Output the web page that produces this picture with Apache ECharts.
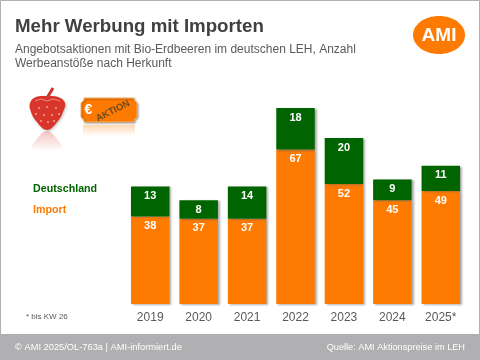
<!DOCTYPE html>
<html>
<head>
<meta charset="utf-8">
<style>
  html, body { margin: 0; padding: 0; background: #fff; }
  #chart { width: 480px; height: 360px; }
</style>
<script src="https://cdn.jsdelivr.net/npm/echarts@6/dist/echarts.min.js"></script>
</head>
<body>
<div id="chart"></div>
<script>
const years = ['2019', '2020', '2021', '2022', '2023', '2024', '2025*'];
const importValues = [38, 37, 37, 67, 52, 45, 49];
const germanValues = [13, 8, 14, 18, 20, 9, 11];

const FONT = '"Liberation Sans", Arial, sans-serif';
const ORANGE = '#ff7a00';
const GREEN = '#006400';
const GREY = '#5a5a5a';

const chart = echarts.init(document.getElementById('chart'), null, { renderer: 'canvas' });

function barSeries(name, data, color) {
  return {
    name, type: 'bar', stack: 'total', data,
    barWidth: 38.5,
    itemStyle: {
      color,
      shadowColor: 'rgba(90,90,90,.5)', shadowBlur: 2, shadowOffsetX: 2, shadowOffsetY: 1,
    },
    label: {
      show: true, position: 'insideTop', distance: 4,
      color: '#fff', fontFamily: FONT, fontSize: 11, fontWeight: 'bold',
    },
  };
}

// Erdbeere und Aktions-Etikett als Schmuck links oben
const berry = [[47, 96], [36, 97], [30, 103], [31, 112], [36, 121], [47, 130], [58, 121], [63, 112], [65, 103], [58, 97]];
const berryShine = berry.map(p => [p[0], 261 - p[1]]);
const seeds = [[39, 108], [47, 107], [56, 108], [36, 114], [44, 115], [52, 115], [59, 114], [41, 121], [48, 122], [54, 121]];
const tag = [[84, 98], [134, 98], [134, 100], [137, 103], [137, 117], [134, 120], [134, 122], [84, 122], [84, 120], [81, 117], [81, 103], [84, 100]];

chart.setOption({
  animation: false,
  backgroundColor: '#fff',
  grid: { left: 126, right: 15, top: 108, bottom: 56 },
  xAxis: {
    type: 'category', data: years,
    axisLine: { show: false }, axisTick: { show: false },
    axisLabel: { color: GREY, fontFamily: FONT, fontSize: 12, margin: 8 },
  },
  yAxis: { type: 'value', min: 0, max: 85, show: false },
  legend: {
    orient: 'vertical', left: 28, top: 179, itemGap: 10, itemWidth: 0, itemHeight: 0,
    selectedMode: false,
    data: [
      { name: 'Deutschland', icon: 'none', textStyle: { color: GREEN } },
      { name: 'Import', icon: 'none', textStyle: { color: ORANGE } },
    ],
    textStyle: { fontFamily: FONT, fontSize: 10.7, fontWeight: 'bold', padding: [0, 0, 0, -5] },
  },
  series: [
    barSeries('Import', importValues, ORANGE),
    barSeries('Deutschland', germanValues, GREEN),
  ],
  graphic: [
    { type: 'rect', z: -1, shape: { x: 0.5, y: 0.5, width: 479, height: 359 }, style: { fill: 'none', stroke: '#b0b0b0', lineWidth: 1 } },
    { type: 'rect', shape: { x: 0, y: 334, width: 480, height: 26 }, style: { fill: '#b0afb1' } },
    { type: 'text', x: 15, y: 334 + 13, style: { text: '© AMI 2025/OL-763a | AMI-informiert.de', fill: '#fff', font: '9.3px ' + FONT, textVerticalAlign: 'middle' } },
    { type: 'text', x: 465, y: 334 + 13, style: { text: 'Quelle: AMI Aktionspreise im LEH', fill: '#fff', font: '9.2px ' + FONT, textAlign: 'right', textVerticalAlign: 'middle' } },

    { type: 'text', x: 15, y: 27, style: { text: 'Mehr Werbung mit Importen', fill: '#404040', font: 'bold 18.7px ' + FONT, textVerticalAlign: 'middle' } },
    { type: 'text', x: 15, y: 50, style: { text: 'Angebotsaktionen mit Bio-Erdbeeren im deutschen LEH, Anzahl', fill: GREY, font: '12px ' + FONT, textVerticalAlign: 'middle' } },
    { type: 'text', x: 15, y: 64, style: { text: 'Werbeanstöße nach Herkunft', fill: GREY, font: '12px ' + FONT, textVerticalAlign: 'middle' } },
    { type: 'text', x: 26, y: 316.5, style: { text: '* bis KW 26', fill: GREY, font: '8px ' + FONT, textVerticalAlign: 'middle' } },

    { type: 'ellipse', shape: { cx: 439, cy: 35, rx: 26, ry: 19 }, style: { fill: ORANGE } },
    { type: 'text', x: 439, y: 36, style: { text: 'AMI', fill: '#fff', font: 'bold 19px ' + FONT, textAlign: 'center', textVerticalAlign: 'middle' } },

    { type: 'polygon', shape: { points: berryShine, smooth: 0.4 }, style: {
      fill: { type: 'linear', x: 0, y: 0, x2: 0, y2: 1, colorStops: [{ offset: 0, color: 'rgba(214,60,50,.3)' }, { offset: 0.6, color: 'rgba(214,60,50,0)' }] },
    } },
    { type: 'polyline', shape: { points: [[47, 98], [50, 93], [53, 88]] }, style: { stroke: '#c9372c', lineWidth: 3, fill: 'none' } },
    { type: 'polygon', shape: { points: berry, smooth: 0.4 }, style: { fill: '#d8352b', shadowBlur: 3, shadowColor: 'rgba(0,0,0,.25)', shadowOffsetX: 1, shadowOffsetY: 1 } },
    { type: 'polyline', shape: { points: [[35, 101], [41, 99], [47, 101], [53, 99], [60, 101]] }, style: { stroke: '#ee8a80', lineWidth: 1, fill: 'none' } },
    ...seeds.map(p => ({ type: 'circle', shape: { cx: p[0], cy: p[1], r: 1 }, style: { fill: '#eea59b' } })),

    { type: 'rect', shape: { x: 83, y: 125, width: 52, height: 11 }, style: {
      fill: { type: 'linear', x: 0, y: 0, x2: 0, y2: 1, colorStops: [{ offset: 0, color: 'rgba(255,122,0,.3)' }, { offset: 1, color: 'rgba(255,122,0,0)' }] },
    } },
    { type: 'polygon', shape: { points: tag }, style: { fill: ORANGE, stroke: '#f5b060', lineWidth: 1, shadowBlur: 2, shadowColor: 'rgba(0,0,0,.35)', shadowOffsetX: 1, shadowOffsetY: 1 } },
    { type: 'text', x: 84.5, y: 110, style: { text: '€', fill: '#fff', font: 'bold 14px ' + FONT, textVerticalAlign: 'middle' } },
    { type: 'text', x: 113, y: 111, rotation: 0.46, style: { text: 'AKTION', fill: '#6b4a20', font: 'bold 9.5px ' + FONT, textAlign: 'center', textVerticalAlign: 'middle' } },
  ],
});
</script>
</body>
</html>
